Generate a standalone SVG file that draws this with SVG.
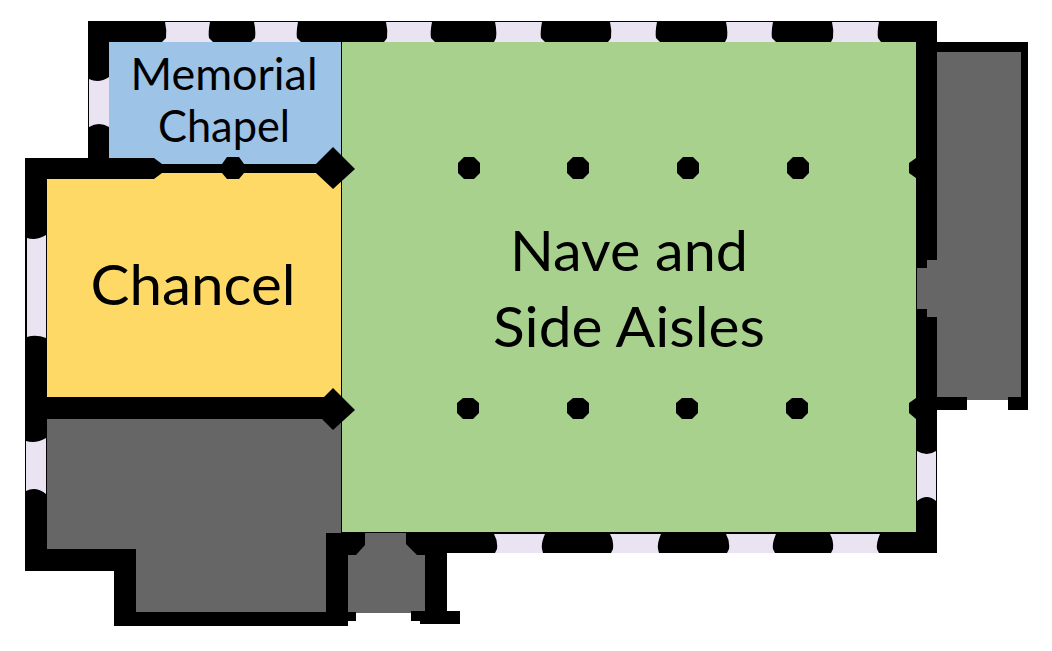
<svg xmlns="http://www.w3.org/2000/svg" width="1052" height="651" viewBox="0 0 1052 651">
<style>
.wall{fill:#000}
.win{fill:#eae3f2}
.room{stroke:#000;stroke-width:1}
text{font-family:"Lato","Liberation Sans",sans-serif;fill:#000;text-anchor:middle}
</style>
<rect width="1052" height="651" fill="#fff"/>
<g id="rooms">
<rect id="right-annex" x="916" y="48" width="108" height="352" fill="#666"/>
<polygon id="south-room" points="40,412 342,412 342,620 130,620 130,555 40,555" fill="#666"/>
<rect id="porch" x="345" y="530" width="84" height="83" fill="#666"/>
<rect id="chapel-room" x="105" y="40" width="237" height="128" fill="#9dc3e6"/>
<rect id="chancel-room" x="42" y="168" width="300" height="235" fill="#ffd966"/>
<rect id="nave-room" class="room" x="341.500" y="41.500" width="575" height="491" fill="#a9d18e"/>
</g>
<g id="walls" class="wall">
<rect x="88" y="21" width="849" height="21"/>
<rect x="88" y="21" width="21" height="140"/>
<polygon points="916,21 937,21 937,260 927,260 927,268 916,268"/>
<polygon points="916,309 927,309 927,317 937,317 937,553 916,553"/>
<polygon points="406,533 937,533 937,553 447,553 447,611 460,611 460,624 420,624 420,621 411,621 411,611 425,611 425,555 417,555 406,544"/>
<polygon points="25,158 154,158 162,164 222,164 227,157 239,157 244,164 316,164 333,147 355,169 333,189 316,173 244,173 239,179 227,179 222,173 162,173 154,179 47,179 47,397 324,397 333,388 355,410 333,430 322,419 47,419 47,549 136,549 136,612 326,612 326,533 365,533 365,545 356,555 348,555 348,612 356,612 356,621 348,621 348,626 114,626 114,571 25,571"/>
<polygon points="937,42 1028,42 1028,410 1008,410 1008,397 1021,397 1021,52 937,52"/>
<rect x="937" y="397" width="30" height="13"/>
<polygon points="916,158 909,163 909,173 916,178"/>
<polygon points="916,398 909,403 909,413 916,419"/>
</g>
<g id="columns" class="wall">
<polygon id="c1" points="464,157 474,157 480,163 480,173 474,179 464,179 458,173 458,163"/>
<polygon id="c2" points="573,157 583,157 589,163 589,173 583,179 573,179 567,173 567,163"/>
<polygon id="c3" points="683,157 693,157 699,163 699,173 693,179 683,179 677,173 677,163"/>
<polygon id="c4" points="793,157 803,157 809,163 809,173 803,179 793,179 787,173 787,163"/>
<polygon id="c5" points="463,398 473,398 479,403 479,413 473,419 463,419 457,413 457,403"/>
<polygon id="c6" points="573,398 583,398 589,403 589,413 583,419 573,419 567,413 567,403"/>
<polygon id="c7" points="682,398 692,398 698,403 698,413 692,419 682,419 676,413 676,403"/>
<polygon id="c8" points="792,398 802,398 808,403 808,413 802,419 792,419 786,413 786,403"/>
</g>
<g id="windows" class="win">
<path d="M165 22H210Q208 32 209 38L213 42H162L166 38Q167 30 165 22Z"/>
<path d="M254 22H298Q296 32 297 38L301 42H251L255 38Q256 30 254 22Z"/>
<path d="M386 22H432Q430 32 431 38L435 42H384L387 38Q388 30 386 22Z"/>
<path d="M495 22H542Q540 32 541 38L545 42H494L496 38Q497 30 495 22Z"/>
<path d="M610 22H657Q655 32 656 38L660 42H608L611 38Q612 30 610 22Z"/>
<path d="M726 22H773Q771 32 772 38L776 42H725L727 38Q728 30 726 22Z"/>
<path d="M832 22H879Q877 32 878 38L881 42H831L833 38Q834 30 832 22Z"/>
<path d="M494 534H545Q541 543 542 549L543 553H495L497 549Q498 541 494 534Z"/>
<path d="M610 534H661Q657 543 658 549L659 553H611L613 549Q614 541 610 534Z"/>
<path d="M726 534H776Q772 543 773 549L775 553H727L729 549Q730 541 726 534Z"/>
<path d="M830 534H880Q876 543 877 549L879 553H831L833 549Q834 541 830 534Z"/>
<path d="M89 79Q99 84 109 77V127Q99 121 89 127Z"/>
<path d="M27 238Q36 241 46 235V338Q36 334 27 337Z"/>
<path d="M26 441Q36 444 46 438V494Q36 486 26 491Z"/>
<path d="M917 451Q927 457 936 451V501Q927 493 917 501Z"/>
</g>
<g id="labels">
<text x="224" y="90" font-size="44" textLength="187" lengthAdjust="spacingAndGlyphs">Memorial</text>
<text x="224" y="142" font-size="44" textLength="132" lengthAdjust="spacingAndGlyphs">Chapel</text>
<text x="193" y="305" font-size="56" textLength="205" lengthAdjust="spacingAndGlyphs">Chancel</text>
<text x="629" y="271" font-size="56" textLength="238" lengthAdjust="spacingAndGlyphs">Nave and</text>
<text x="629" y="347" font-size="56" textLength="272" lengthAdjust="spacingAndGlyphs">Side Aisles</text>
</g>
</svg>
